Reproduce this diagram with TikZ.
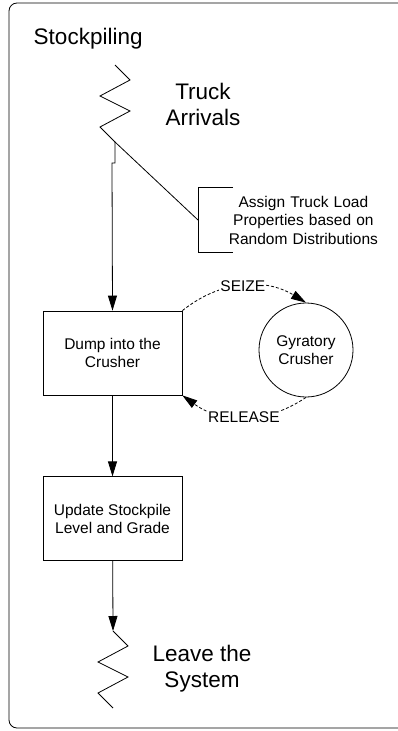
\documentclass[tikz,border=0pt]{standalone}
\usepackage{fontspec}
\setmainfont{Liberation Sans}
\usetikzlibrary{arrows.meta,positioning}

\tikzset{
	zig/.pic={
		\draw (0,0) -- (15,15) -- (-15,31) -- (15,46) -- (-15,62) -- (0,77);
		\coordinate (-top) at (0,0);
		\coordinate (-bot) at (0,77);
	},
}

\begin{document}
\begin{tikzpicture}[x=1pt,y=-1pt,line width=0.8pt,
	every node/.style={font=\fontsize{15.5}{18.5}\selectfont},
	proc/.style={draw,rectangle,minimum width=139pt,minimum height=84pt,align=center},
	big/.style={font=\fontsize{22.5}{26}\selectfont,align=center},
	flow/.style={-{Triangle[length=15pt,width=9pt]}},
	res/.style={dashed,dash pattern=on 3pt off 2pt,-{Triangle[length=15pt,width=9pt]}}]
	\useasboundingbox (0,0) rectangle (397,731);
	\draw[rounded corners=8pt] (9,3) rectangle (430,728);
	\node[big,anchor=base west] (title) at (30,44) {Stockpiling};

	\begin{scope}
		\pic (arrive) at (115,65) {zig};
		\node[big] (arrivelbl) at (203,104) {Truck\\Arrivals};
		\node[anchor=west,text width=210pt,align=center,minimum height=64pt,inner xsep=0pt] (assign) at (198,220) {Assign Truck Load\\Properties based on\\Random Distributions};
		\node[proc] (dump) at (112.5,353) {Dump into the\\Crusher};
		\node[circle,draw,minimum size=94pt,align=center] (crusher) at (306,350) {Gyratory\\Crusher};
		\node[proc,below=81pt of dump] (update) {Update Stockpile\\Level and Grade};
		\pic (leave) at (113,631) {zig};
		\node[big] (leavelbl) at (202,669) {Leave the\\System};
	\end{scope}

	\begin{scope}
	\draw[flow] (arrive-bot) |- ++(-3,21) -- (dump.north);
	\draw (arrive-bot) -- (assign.west);
	\draw ([xshift=35pt]assign.north west) -- (assign.north west) -- (assign.south west) -- ([xshift=35pt]assign.south west);
	\draw[flow] (dump) -- (update);
	\draw[flow] (update) -- (leave-top);
	\draw[res] (dump.north east) to[bend left=35] node[fill=white,inner sep=1pt] {SEIZE} (crusher.north);
	\draw[res] (crusher.south) to[bend left=35] node[fill=white,inner sep=1pt] {RELEASE} (dump.south east);
	\end{scope}
\end{tikzpicture}
\end{document}
